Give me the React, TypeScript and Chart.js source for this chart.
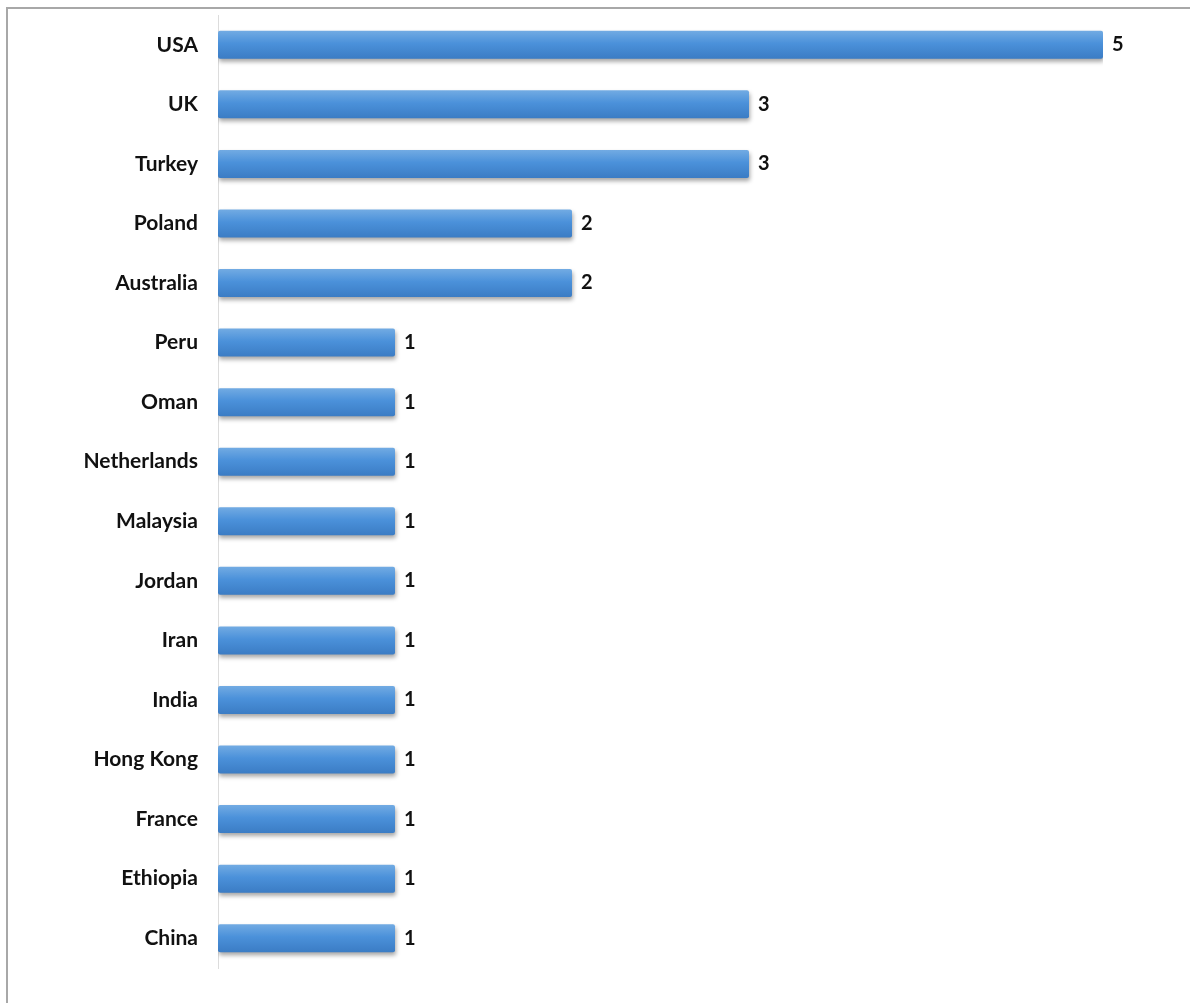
import React, { useEffect, useRef } from "react";
import { Chart, registerables } from "chart.js";

Chart.register(...registerables);

const countries = [
  "USA",
  "UK",
  "Turkey",
  "Poland",
  "Australia",
  "Peru",
  "Oman",
  "Netherlands",
  "Malaysia",
  "Jordan",
  "Iran",
  "India",
  "Hong Kong",
  "France",
  "Ethiopia",
  "China",
];

const counts = [5, 3, 3, 2, 2, 1, 1, 1, 1, 1, 1, 1, 1, 1, 1, 1];

const xMin = 0;
const xMax = 5;

const FONT = "Lato, 'DejaVu Sans', sans-serif";
const BAR_PCT = 0.47;

const shadowPlugin = {
  id: "barShadow",
  beforeDatasetsDraw(chart: any) {
    const ctx = chart.ctx;
    ctx.save();
    ctx.shadowColor = "rgba(0,0,0,0.35)";
    ctx.shadowBlur = 4;
    ctx.shadowOffsetX = 1;
    ctx.shadowOffsetY = 3;
  },
  afterDatasetsDraw(chart: any) {
    chart.ctx.restore();
  },
};

const valueLabelPlugin = {
  id: "valueLabels",
  afterDraw(chart: any) {
    const ctx = chart.ctx;
    const meta = chart.getDatasetMeta(0);
    const data = chart.data.datasets[0].data as number[];
    ctx.save();
    ctx.fillStyle = "#111111";
    ctx.font = `bold 20px ${FONT}`;
    ctx.textAlign = "left";
    ctx.textBaseline = "middle";
    meta.data.forEach((bar: any, i: number) => {
      ctx.fillText(String(data[i]), bar.x + 9, bar.y);
    });
    ctx.restore();
  },
};

export default function App() {
  const canvasRef = useRef<HTMLCanvasElement | null>(null);

  useEffect(() => {
    if (!canvasRef.current) return;
    const chart = new Chart(canvasRef.current, {
      type: "bar",
      data: {
        labels: countries,
        datasets: [
          {
            data: counts,
            backgroundColor: (context: any) => {
              const ch = context.chart;
              const yScale = ch.scales && ch.scales.y;
              if (!ch.chartArea || !yScale || context.dataIndex === undefined) {
                return "#4a90da";
              }
              const c = yScale.getPixelForValue(context.dataIndex);
              const step = Math.abs(yScale.getPixelForValue(1) - yScale.getPixelForValue(0)) || 59;
              const half = (step * BAR_PCT) / 2;
              const g = ch.ctx.createLinearGradient(0, c - half, 0, c + half);
              g.addColorStop(0, "#72abe3");
              g.addColorStop(0.45, "#4b91da");
              g.addColorStop(1, "#3b7cc4");
              return g;
            },
            borderWidth: 0,
            borderRadius: 2,
            borderSkipped: false,
            barPercentage: BAR_PCT,
            categoryPercentage: 1,
          },
        ],
      },
      options: {
        indexAxis: "y",
        responsive: false,
        maintainAspectRatio: false,
        animation: false,
        layout: {
          padding: { top: 15, bottom: 35, left: 0, right: 87 },
        },
        plugins: {
          legend: { display: false },
          tooltip: { enabled: false },
          title: { display: false },
        },
        scales: {
          x: {
            display: false,
            min: xMin,
            max: xMax,
            grid: { display: false },
          },
          y: {
            grid: { display: false, drawTicks: false },
            border: { display: true, color: "#dcdcdc", width: 1 },
            ticks: {
              color: "#111111",
              padding: 20,
              font: { family: FONT, size: 21, weight: "bold" },
            },
            afterFit: (scale: any) => {
              scale.width = 218;
              scale.paddingTop = 0;
              scale.paddingBottom = 0;
            },
          },
        },
      },
      plugins: [shadowPlugin, valueLabelPlugin],
    } as any);
    return () => chart.destroy();
  }, []);

  return (
    <div
      style={{
        position: "absolute",
        left: 0,
        top: 0,
        width: 1190,
        height: 1003,
        background: "#ffffff",
        overflow: "hidden",
      }}
    >
      <div
        style={{
          position: "absolute",
          left: 6,
          top: 7,
          width: 1200,
          height: 1010,
          borderTop: "2px solid #a8a8a8",
          borderLeft: "2px solid #a8a8a8",
          boxSizing: "border-box",
        }}
      />
      <canvas
        ref={canvasRef}
        width={1190}
        height={1003}
        style={{ position: "absolute", left: 0, top: 0, width: 1190, height: 1003 }}
      />
    </div>
  );
}
